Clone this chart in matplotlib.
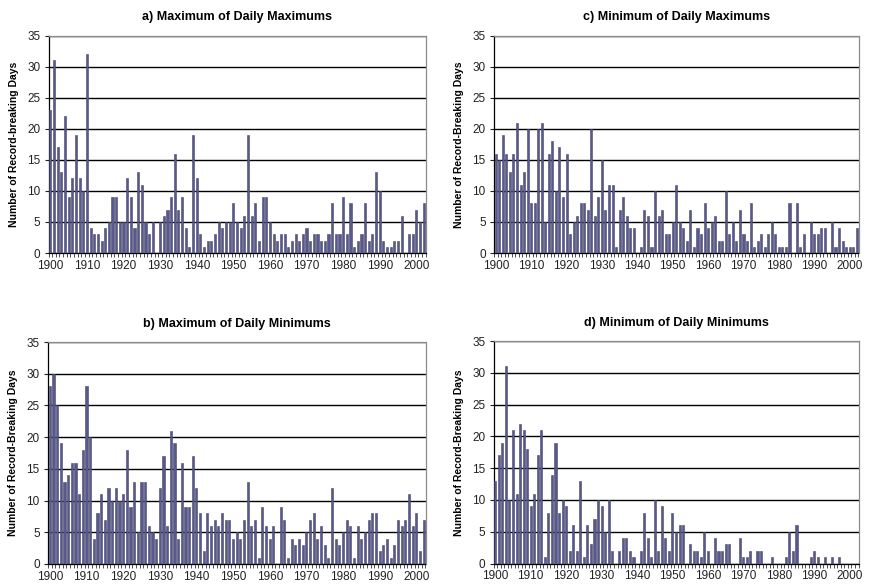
import matplotlib
matplotlib.use("Agg")
import matplotlib.pyplot as plt
from matplotlib.ticker import MultipleLocator
import numpy as np

plt.rcParams['font.family'] = ['Liberation Sans', 'DejaVu Sans']

years = list(range(1900, 2003))

max_daily_max = [23, 31, 17, 13, 22, 9, 12, 19, 12, 10,
                 32, 4, 3, 3, 2, 4, 5, 9, 9, 5,
                 5, 12, 9, 4, 13, 11, 5, 3, 5, 0,
                 5, 6, 7, 9, 16, 7, 9, 4, 1, 19,
                 12, 3, 1, 2, 2, 3, 5, 4, 5, 5,
                 8, 5, 4, 6, 19, 6, 8, 2, 9, 9,
                 5, 3, 2, 3, 3, 1, 2, 3, 2, 3,
                 4, 2, 3, 3, 2, 2, 3, 8, 3, 3,
                 9, 3, 8, 1, 2, 3, 8, 2, 3, 13,
                 10, 2, 1, 1, 2, 2, 6, 0, 3, 3,
                 7, 5, 8]

min_daily_max = [16, 15, 19, 16, 13, 16, 21, 11, 13, 20,
                 8, 8, 20, 21, 5, 16, 18, 10, 17, 9,
                 16, 3, 5, 6, 8, 8, 7, 20, 6, 9,
                 15, 7, 11, 11, 1, 7, 9, 6, 4, 4,
                 0, 1, 7, 6, 1, 10, 6, 7, 3, 3,
                 5, 11, 5, 4, 2, 7, 1, 4, 3, 8,
                 4, 5, 6, 2, 2, 10, 3, 5, 2, 7,
                 3, 2, 8, 1, 2, 3, 1, 3, 5, 3,
                 1, 1, 1, 8, 0, 8, 1, 3, 0, 5,
                 3, 3, 4, 4, 0, 5, 1, 4, 2, 1,
                 1, 1, 4]

max_daily_min = [28, 30, 25, 19, 13, 14, 16, 16, 11, 18,
                 28, 20, 4, 8, 11, 7, 12, 10, 12, 10,
                 11, 18, 9, 13, 5, 13, 13, 6, 5, 4,
                 12, 17, 6, 21, 19, 4, 16, 9, 9, 17,
                 12, 8, 2, 8, 6, 7, 6, 8, 7, 7,
                 4, 5, 4, 7, 13, 6, 7, 1, 9, 6,
                 4, 6, 0, 9, 7, 1, 4, 3, 4, 3,
                 5, 7, 8, 4, 6, 3, 1, 12, 4, 3,
                 5, 7, 6, 1, 6, 4, 5, 7, 8, 8,
                 2, 3, 4, 1, 3, 7, 6, 7, 11, 6,
                 8, 2, 7]

min_daily_min = [13, 17, 19, 31, 10, 21, 11, 22, 21, 18,
                 9, 11, 17, 21, 1, 8, 14, 19, 8, 10,
                 9, 2, 6, 2, 13, 1, 6, 3, 7, 10,
                 9, 5, 10, 2, 0, 2, 4, 4, 2, 1,
                 0, 2, 8, 4, 1, 10, 2, 9, 4, 2,
                 8, 5, 6, 6, 0, 3, 2, 2, 1, 5,
                 2, 0, 4, 2, 2, 3, 3, 0, 0, 4,
                 1, 1, 2, 0, 2, 2, 0, 0, 1, 0,
                 0, 0, 1, 5, 2, 6, 0, 0, 0, 1,
                 2, 1, 0, 1, 0, 1, 0, 1, 0, 0,
                 0, 0, 0]

titles = ["a) Maximum of Daily Maximums", "c) Minimum of Daily Maximums",
          "b) Maximum of Daily Minimums", "d) Minimum of Daily Minimums"]
ylabels = ["Number of Record-breaking Days", "Number of Record-Breaking Days",
           "Number of Record-Breaking Days", "Number of Record-Breaking Days"]
series = [max_daily_max, min_daily_max, max_daily_min, min_daily_min]
year_ticks = list(range(1900, 2001, 10))

W, H = 869, 585
fig = plt.figure(figsize=(W / 100, H / 100), dpi=100)

# (left, right, top, bottom) in pixels
boxes = [(48.5, 425.5, 35.5, 253), (494, 858.5, 35.5, 253),
         (48, 425.5, 342, 564), (493.5, 858.5, 341, 563.5)]

bar_color = '#58588a'
for i, (vals, title, ylab, (l, r, t, b)) in enumerate(zip(series, titles, ylabels, boxes)):
    ax = fig.add_axes([l / W, 1 - b / H, (r - l) / W, (b - t) / H])
    ax.bar(years, vals, width=0.58, color=bar_color, edgecolor='#45456f',
           linewidth=0.4, zorder=3)
    ax.set_xlim(1899.5, 2002.5)
    ax.set_ylim(0, 35)
    ax.yaxis.set_major_locator(MultipleLocator(5))
    ax.set_xticks(year_ticks)
    ax.set_xticks(np.arange(1899.5, 2003, 1), minor=True)
    ax.tick_params(axis='x', which='major', length=0, labelsize=8.5,
                   pad=5, colors='#222222')
    ax.tick_params(axis='x', which='minor', length=3, width=0.6,
                   color='#333333')
    ax.tick_params(axis='y', length=3, width=0.8, labelsize=8.5,
                   colors='#222222', pad=3)
    ax.grid(axis='y', color='black', linewidth=1.0, zorder=1)
    ax.set_axisbelow(True)
    for s in ['top', 'right']:
        ax.spines[s].set_color('#8c8c8c')
        ax.spines[s].set_linewidth(0.9)
    ax.spines['left'].set_color('black')
    ax.spines['left'].set_linewidth(0.9)
    ax.spines['bottom'].set_color('black')
    ax.spines['bottom'].set_linewidth(0.9)
    ax.set_title(title, fontsize=9, fontweight='bold', pad=11)
    ax.set_ylabel(ylab, fontsize=7.5, fontweight='bold', labelpad=6)

fig.savefig('out.png', dpi=100, facecolor='white')
